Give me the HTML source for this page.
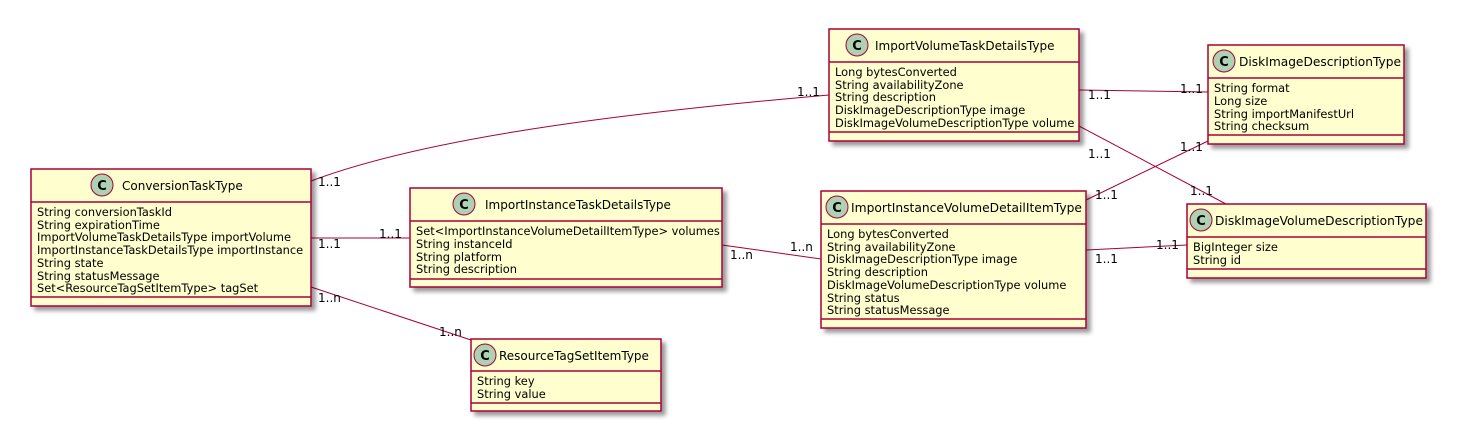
<!DOCTYPE html>
<html><head><meta charset="utf-8"><style>
html,body{margin:0;padding:0;background:#fff;}
svg{display:block;font-family:"DejaVu Sans","Liberation Sans",sans-serif;}
.box{fill:#FEFECE;stroke:#A80036;stroke-width:1.5;}
.sep{stroke:#A80036;stroke-width:1.5;}
.t{font-size:12px;fill:#000;}
.a{font-size:11.4px;fill:#000;}
.l{font-size:12px;fill:#000;}
.e{stroke:#A80036;stroke-width:1;fill:none;}
.c{fill:#ADD1B2;stroke:#A80036;stroke-width:1;}
.cl{font-size:13px;font-weight:bold;fill:#000;}
</style></head><body>
<svg width="1470" height="441" viewBox="0 0 1470 441">
<defs><filter id="sh" x="-5%" y="-5%" width="115%" height="125%"><feGaussianBlur in="SourceAlpha" stdDeviation="2"/><feOffset dx="4" dy="4"/><feComponentTransfer><feFuncA type="linear" slope="0.4"/></feComponentTransfer><feMerge><feMergeNode/><feMergeNode in="SourceGraphic"/></feMerge></filter></defs>

<path class="e" d="M311,181 C420,140 600,115 829,95"/>
<path class="e" d="M311,238 L410,238"/>
<path class="e" d="M311,287 L471,340"/>
<path class="e" d="M722,245 L821,259"/>
<path class="e" d="M1079,90 L1208,92"/>
<path class="e" d="M1079,126 L1226,204"/>
<path class="e" d="M1086,200 L1208,141"/>
<path class="e" d="M1086,250 L1187,245"/>
<g class="l">
<text x="318" y="186">1..1</text><text x="797" y="96">1..1</text>
<text x="318" y="248">1..1</text><text x="379" y="238">1..1</text>
<text x="318" y="302">1..n</text><text x="439" y="336">1..n</text>
<text x="730" y="259">1..n</text><text x="790" y="251">1..n</text>
<text x="1088" y="99">1..1</text><text x="1180" y="93">1..1</text>
<text x="1088" y="158">1..1</text><text x="1190" y="195">1..1</text>
<text x="1095" y="199">1..1</text><text x="1180" y="151">1..1</text>
<text x="1095" y="263">1..1</text><text x="1156" y="249">1..1</text>
</g>

<g filter="url(#sh)"><rect class="box" x="31" y="169" width="280" height="137"/></g>
<line class="sep" x1="31" y1="202" x2="311" y2="202"/><line class="sep" x1="31" y1="297" x2="311" y2="297"/>
<circle class="c" cx="102" cy="185" r="11"/><text class="cl" x="102" y="190" text-anchor="middle">C</text>
<text class="t" x="122" y="190">ConversionTaskType</text>
<g class="a"><text x="37" y="216">String conversionTaskId</text><text x="37" y="229">String expirationTime</text><text x="37" y="241">ImportVolumeTaskDetailsType importVolume</text><text x="37" y="254">ImportInstanceTaskDetailsType importInstance</text><text x="37" y="267">String state</text><text x="37" y="280">String statusMessage</text><text x="37" y="292">Set&lt;ResourceTagSetItemType&gt; tagSet</text></g>

<g filter="url(#sh)"><rect class="box" x="410" y="188" width="312" height="99"/></g>
<line class="sep" x1="410" y1="221" x2="722" y2="221"/><line class="sep" x1="410" y1="279" x2="722" y2="279"/>
<circle class="c" cx="464" cy="204" r="11"/><text class="cl" x="464" y="209" text-anchor="middle">C</text>
<text class="t" x="485" y="209">ImportInstanceTaskDetailsType</text>
<g class="a"><text x="416" y="235">Set&lt;ImportInstanceVolumeDetailItemType&gt; volumes</text><text x="416" y="248">String instanceId</text><text x="416" y="261">String platform</text><text x="416" y="273">String description</text></g>

<g filter="url(#sh)"><rect class="box" x="471" y="339" width="190" height="72"/></g>
<line class="sep" x1="471" y1="371" x2="661" y2="371"/><line class="sep" x1="471" y1="403" x2="661" y2="403"/>
<circle class="c" cx="485" cy="355" r="11"/><text class="cl" x="485" y="360" text-anchor="middle">C</text>
<text class="t" x="499" y="360">ResourceTagSetItemType</text>
<g class="a"><text x="477" y="385">String key</text><text x="477" y="398">String value</text></g>

<g filter="url(#sh)"><rect class="box" x="829" y="29" width="250" height="112"/></g>
<line class="sep" x1="829" y1="62" x2="1079" y2="62"/><line class="sep" x1="829" y1="132" x2="1079" y2="132"/>
<circle class="c" cx="857" cy="45" r="11"/><text class="cl" x="857" y="50" text-anchor="middle">C</text>
<text class="t" x="875" y="50">ImportVolumeTaskDetailsType</text>
<g class="a"><text x="835" y="76">Long bytesConverted</text><text x="835" y="89">String availabilityZone</text><text x="835" y="101">String description</text><text x="835" y="114">DiskImageDescriptionType image</text><text x="835" y="127">DiskImageVolumeDescriptionType volume</text></g>

<g filter="url(#sh)"><rect class="box" x="1208" y="45" width="196" height="99"/></g>
<line class="sep" x1="1208" y1="78" x2="1404" y2="78"/><line class="sep" x1="1208" y1="135" x2="1404" y2="135"/>
<circle class="c" cx="1224" cy="61" r="11"/><text class="cl" x="1224" y="66" text-anchor="middle">C</text>
<text class="t" x="1239" y="66" textLength="162" lengthAdjust="spacingAndGlyphs">DiskImageDescriptionType</text>
<g class="a"><text x="1214" y="92">String format</text><text x="1214" y="105">Long size</text><text x="1214" y="118">String importManifestUrl</text><text x="1214" y="130">String checksum</text></g>

<g filter="url(#sh)"><rect class="box" x="821" y="191" width="265" height="137"/></g>
<line class="sep" x1="821" y1="224" x2="1086" y2="224"/><line class="sep" x1="821" y1="319" x2="1086" y2="319"/>
<circle class="c" cx="837" cy="207" r="11"/><text class="cl" x="837" y="212" text-anchor="middle">C</text>
<text class="t" x="851" y="212" textLength="231" lengthAdjust="spacingAndGlyphs">ImportInstanceVolumeDetailItemType</text>
<g class="a"><text x="827" y="238">Long bytesConverted</text><text x="827" y="251">String availabilityZone</text><text x="827" y="263">DiskImageDescriptionType image</text><text x="827" y="276">String description</text><text x="827" y="289">DiskImageVolumeDescriptionType volume</text><text x="827" y="302">String status</text><text x="827" y="314">String statusMessage</text></g>

<g filter="url(#sh)"><rect class="box" x="1187" y="204" width="239" height="74"/></g>
<line class="sep" x1="1187" y1="237" x2="1426" y2="237"/><line class="sep" x1="1187" y1="269" x2="1426" y2="269"/>
<circle class="c" cx="1201" cy="220" r="11"/><text class="cl" x="1201" y="225" text-anchor="middle">C</text>
<text class="t" x="1215" y="225" textLength="208" lengthAdjust="spacingAndGlyphs">DiskImageVolumeDescriptionType</text>
<g class="a"><text x="1193" y="251">BigInteger size</text><text x="1193" y="264">String id</text></g>
</svg>
</body></html>
